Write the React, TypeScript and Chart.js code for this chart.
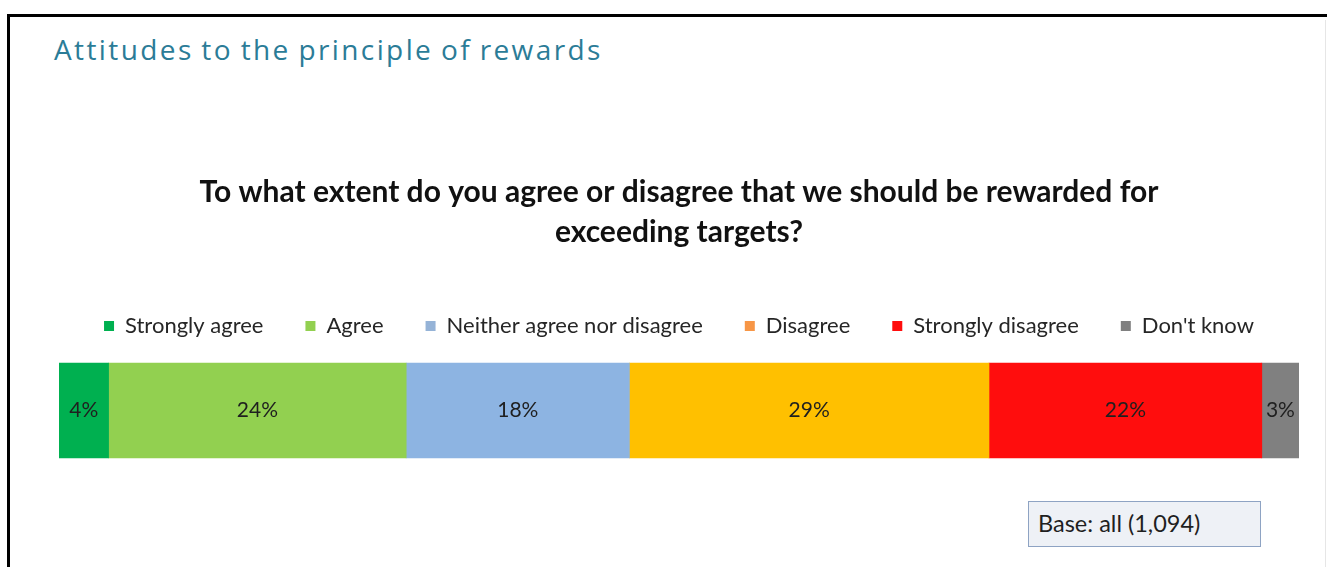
import React, { useEffect, useRef } from "react";
import { Chart, registerables } from "chart.js";

Chart.register(...registerables);

const categories = ["Attitudes"];
const seriesLabels = [
  "Strongly agree",
  "Agree",
  "Neither agree nor disagree",
  "Disagree",
  "Strongly disagree",
  "Don't know",
];
const seriesValues = [4, 24, 18, 29, 22, 3];
const barColors = ["#00b050", "#92d050", "#8db4e2", "#ffc000", "#ff0d0d", "#808080"];
const legendColors = ["#00b050", "#92d050", "#95b3d7", "#f79646", "#ff0d0d", "#808080"];
const questionLines = [
  "To what extent do you agree or disagree that we should be rewarded for",
  "exceeding targets?",
];
const headerText = "Attitudes to the principle of rewards";
const baseText = "Base: all (1,094)";

const FONT = "Lato, 'Noto Sans', sans-serif";

const valueLabelPlugin = {
  id: "valueLabels",
  afterDatasetsDraw(chart: any) {
    const ctx = chart.ctx;
    ctx.save();
    ctx.font = `21px ${FONT}`;
    ctx.fillStyle = "#1f1f1f";
    ctx.textAlign = "center";
    ctx.textBaseline = "middle";
    chart.data.datasets.forEach((ds: any, i: number) => {
      const meta = chart.getDatasetMeta(i);
      meta.data.forEach((el: any, j: number) => {
        const p = el.getProps(["x", "y", "base"], true);
        const cx = (p.x + p.base) / 2;
        ctx.fillText(`${ds.data[j]}%`, cx, p.y);
      });
    });
    ctx.restore();
  },
};

export default function App() {
  const canvasRef = useRef<HTMLCanvasElement | null>(null);

  useEffect(() => {
    if (!canvasRef.current) return;
    const chart = new Chart(canvasRef.current, {
      type: "bar",
      data: {
        labels: categories,
        datasets: seriesLabels.map((label, i) => ({
          label,
          data: [seriesValues[i]],
          backgroundColor: barColors[i],
          borderWidth: 0,
          barThickness: 95,
        })),
      },
      options: {
        indexAxis: "y",
        animation: false,
        responsive: false,
        maintainAspectRatio: false,
        layout: { padding: { left: 59, right: 28, top: 0, bottom: 93 } },
        scales: {
          x: { stacked: true, min: 0, max: 100, display: false },
          y: { stacked: true, display: false },
        },
        plugins: {
          tooltip: { enabled: false },
          title: {
            display: true,
            text: questionLines,
            color: "#111111",
            font: { family: FONT, size: 30, weight: "bold", lineHeight: 40 / 30 },
            padding: { top: 172, bottom: 21 },
          },
          legend: {
            display: true,
            position: "top",
            labels: {
              boxWidth: 10,
              boxHeight: 10,
              padding: 42,
              color: "#262626",
              font: { family: FONT, size: 22 },
              generateLabels: () =>
                seriesLabels.map((text, i) => ({
                  text,
                  fillStyle: legendColors[i],
                  strokeStyle: legendColors[i],
                  lineWidth: 0,
                  hidden: false,
                  datasetIndex: i,
                  fontColor: "#262626",
                })),
            },
          },
        },
      },
      plugins: [valueLabelPlugin],
    } as any);
    return () => chart.destroy();
  }, []);

  return (
    <div
      style={{
        position: "absolute",
        left: 0,
        top: 0,
        width: 1327,
        height: 567,
        background: "#ffffff",
        overflow: "hidden",
      }}
    >
      <div
        style={{
          position: "absolute",
          left: 7,
          top: 14,
          width: 1340,
          height: 600,
          borderTop: "3px solid #000",
          borderLeft: "3px solid #000",
          boxSizing: "border-box",
        }}
      />
      <div
        style={{
          position: "absolute",
          left: 1325,
          top: 20,
          width: 1,
          height: 560,
          background: "#e6e6e6",
        }}
      />
      <div
        style={{
          position: "absolute",
          left: 54,
          top: 29,
          fontFamily: "'Open Sans', sans-serif",
          fontSize: 28,
          letterSpacing: "2.4px",
          wordSpacing: "-2px",
          color: "#2b7c97",
          whiteSpace: "nowrap",
          lineHeight: "40px",
        }}
      >
        {headerText}
      </div>
      <canvas
        ref={canvasRef}
        width={1327}
        height={567}
        style={{ position: "absolute", left: 0, top: 0, width: 1327, height: 567 }}
      />
      <div
        style={{
          position: "absolute",
          left: 1028,
          top: 501,
          width: 233,
          height: 46,
          boxSizing: "border-box",
          background: "#eef1f6",
          border: "1.5px solid #8ea3c3",
          fontFamily: FONT,
          fontSize: 23.5,
          color: "#1f1f1f",
          lineHeight: "43px",
          paddingLeft: 9,
          whiteSpace: "nowrap",
        }}
      >
        {baseText}
      </div>
    </div>
  );
}
